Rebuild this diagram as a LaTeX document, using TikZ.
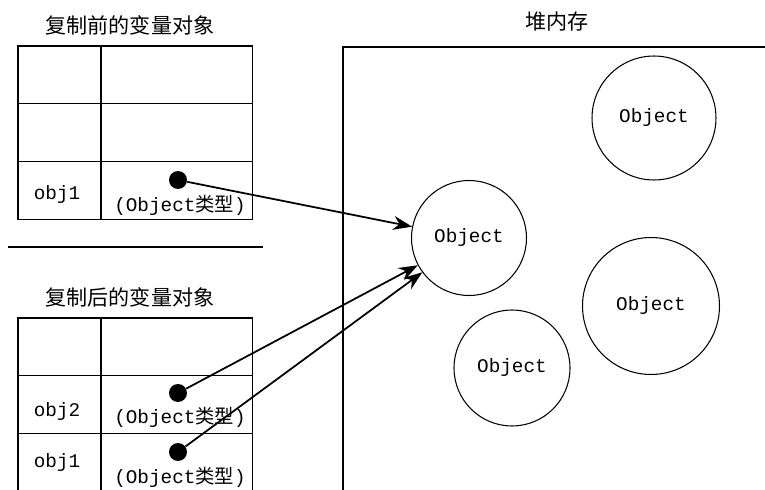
\documentclass[tikz,border=0pt]{standalone}
\usepackage{fontspec}
\setmonofont{Liberation Mono}
\newfontfamily\cjk{Noto Sans CJK SC}
\usetikzlibrary{positioning,calc,arrows.meta}
\newcommand{\Ttype}{(Object{\cjk 类型})}
\tikzstyle{cell} = [rectangle,draw=black,line width=0.6pt,inner sep=0pt,outer sep=0pt,minimum height=1.154cm]
\tikzstyle{lcell} = [cell,minimum width=1.66cm]
\tikzstyle{rcell} = [cell,minimum width=3.04cm]
\tikzstyle{heapobj} = [circle,draw=black,line width=0.6pt,inner sep=0pt,font=\fontsize{11}{11}\ttfamily]
\tikzstyle{ptr} = [circle,fill=black,inner sep=0pt,minimum size=0.36cm]
\tikzstyle{varname} = [font=\fontsize{11}{11}\ttfamily]
\tikzstyle{title} = [font=\fontsize{12}{12}\cjk]

\begin{document}
\begin{tikzpicture}[x=0.02cm,y=-0.02cm,>={Stealth[length=3.8mm,width=2.8mm]}]
\useasboundingbox (0,0) rectangle (765,490);
\clip (0,0) rectangle (765,490);

% Titles
\node[title] (tbefore) at (130,25)  {复制前的变量对象};
\node[title] (tafter)  at (130,297) {复制后的变量对象};
\node[title] (theap)   at (557,22)  {堆内存};

% Variable table before copy
\node[lcell, anchor=north west] (a11) at (18,46) {};
\node[rcell, right = 0pt of a11] (a12) {};
\node[lcell, below = 0pt of a11] (a21) {};
\node[rcell, right = 0pt of a21] (a22) {};
\node[lcell, below = 0pt of a21] (a31) {};
\node[rcell, right = 0pt of a31] (a32) {};

\node[varname] (v1)  at (57,195)  {obj1};
\node[ptr]     (p1)  at (178,180) {};
\node[varname] (ty1) at (180,205) {\Ttype};

% Separator
\draw[line width=1.5pt] (8,247) -- (263,247);

% Variable table after copy
\node[lcell, anchor=north west] (b11) at (18,318) {};
\node[rcell, right = 0pt of b11] (b12) {};
\node[lcell, below = 0pt of b11] (b21) {};
\node[rcell, right = 0pt of b21] (b22) {};
\node[lcell, below = 0pt of b21, minimum height=1.4cm] (b31) {};
\node[rcell, right = 0pt of b31, minimum height=1.4cm] (b32) {};

\node[varname] (v2)  at (57,412)  {obj2};
\node[ptr]     (p2)  at (178,393) {};
\node[varname] (ty2) at (180,417) {\Ttype};
\node[varname] (v3)  at (57,463)  {obj1};
\node[ptr]     (p3)  at (178,452) {};
\node[varname] (ty3) at (180,477) {\Ttype};

% Heap
\node[draw=black, line width=1pt, anchor=north west, minimum width=10cm, minimum height=10cm] (heap) at (342,46) {};
\node[heapobj, minimum size=2.3cm]  (o1) at (469,238) {Object};
\node[heapobj, minimum size=2.48cm] (o2) at (654,118) {Object};
\node[heapobj, minimum size=2.74cm] (o3) at (651,306) {Object};
\node[heapobj, minimum size=2.32cm] (o4) at (512,368) {Object};

% Edges
\draw[->, line width=1pt] (p1) -- (o1);
\draw[->, line width=1pt] (p2) -- (o1);
\draw[->, line width=1pt] (p3) -- (o1);
\end{tikzpicture}
\end{document}
